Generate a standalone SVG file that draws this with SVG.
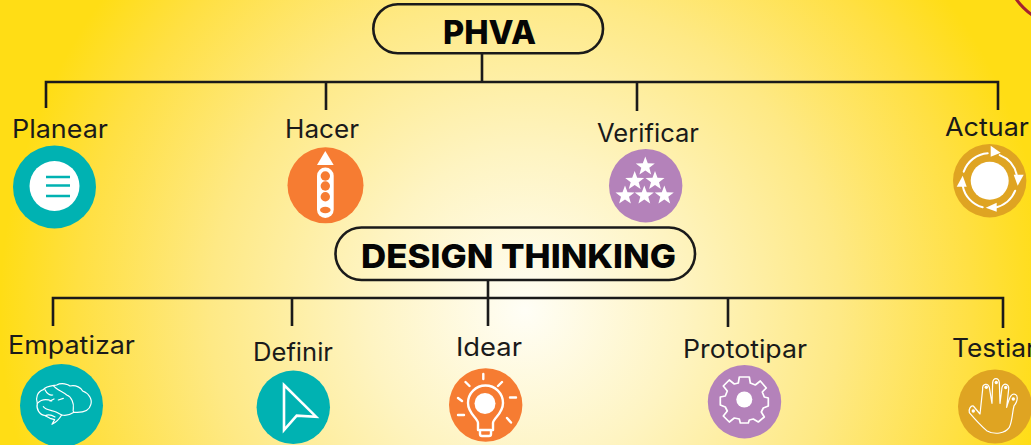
<svg xmlns="http://www.w3.org/2000/svg" width="1031" height="445" viewBox="0 0 1031 445">
<style>
.lbl{font-family:"Inter","Noto Sans","Liberation Sans",sans-serif;font-size:25px;font-weight:400;fill:#1a1a1a}
.ttl{font-family:"Inter","Liberation Sans",sans-serif;font-size:33px;font-weight:800;fill:#050505}
.pill{fill:none;stroke:#1a1a1a;stroke-width:2.6}
.conn{fill:none;stroke:#1a1a1a;stroke-width:2.6}
.w{fill:#fff}
.ws{fill:none;stroke:#fff;stroke-width:2.4;stroke-linecap:round;stroke-linejoin:round}
.thin{fill:none;stroke:#fff;stroke-width:3.6;stroke-linecap:round;stroke-linejoin:round}
.teal{fill:#00b2b2}.orange{fill:#f67c32}.purple{fill:#b482ba}.gold{fill:#dfa422}
</style>
<defs>
<radialGradient id="bg" gradientUnits="userSpaceOnUse" cx="525" cy="310" r="525">
<stop offset="0" stop-color="#fffef6"/>
<stop offset="0.3" stop-color="#fef4c2"/>
<stop offset="0.6" stop-color="#fee985"/>
<stop offset="0.85" stop-color="#ffe043"/>
<stop offset="1" stop-color="#ffdd15"/>
</radialGradient>
<polygon id="star" points="0,-10 2.500,-3.200 9.500,-3.100 4,1.200 5.900,8.100 0,4 -5.900,8.100 -4,1.200 -9.500,-3.100 -2.500,-3.200"/>
</defs>
<rect width="1031" height="445" fill="url(#bg)"/>
<circle cx="1065.800" cy="-34.800" r="60" fill="none" stroke="#a5212f" stroke-width="3"/>

<g id="connectors">
<path class="conn" d="M482 53V82M46 108V82H998V110M326 82V110M637 82V111"/>
<path class="conn" d="M488 280V326M53 326V298H1003V328M292 298V326M728 298V327"/>
</g>

<g id="phva"><rect class="pill" x="373.300" y="4.300" width="229.700" height="49" rx="24.500"/><text class="ttl" x="443" y="44" textLength="93" lengthAdjust="spacingAndGlyphs">PHVA</text></g>
<g id="design-thinking"><rect class="pill" x="335.500" y="227.500" width="359.500" height="52.500" rx="26"/><text class="ttl" x="361" y="267.500" textLength="315" lengthAdjust="spacingAndGlyphs">DESIGN THINKING</text></g>

<g id="planear"><text class="lbl" x="12" y="138" textLength="96" lengthAdjust="spacingAndGlyphs">Planear</text>
<circle class="teal" cx="54.500" cy="187" r="41.500"/><circle class="w" cx="54.500" cy="186" r="25"/>
<path d="M46 177H70M46 185.500H70M46 196H70" stroke="#00b2b2" stroke-width="2.600" fill="none"/></g>

<g id="hacer"><text class="lbl" x="285" y="138" textLength="74" lengthAdjust="spacingAndGlyphs">Hacer</text>
<circle class="orange" cx="325.500" cy="185.300" r="38"/>
<polygon class="w" points="325.300,151 317,165 333.700,165"/>
<rect class="w" x="317" y="167.500" width="16.700" height="50.500" rx="8.300"/>
<g class="orange"><circle cx="325.300" cy="176" r="4.700"/><circle cx="325.300" cy="186" r="4.700"/><circle cx="325.300" cy="196.700" r="4.700"/><ellipse cx="325.300" cy="210" rx="5.300" ry="3.300"/></g></g>

<g id="verificar"><text class="lbl" x="597" y="141.700" textLength="102" lengthAdjust="spacingAndGlyphs">Verificar</text>
<circle class="purple" cx="645.700" cy="185.700" r="36.700"/>
<g class="w"><use href="#star" x="645.300" y="166.500"/><use href="#star" x="634.700" y="181"/><use href="#star" x="655" y="181"/><use href="#star" x="625" y="195.500"/><use href="#star" x="644.300" y="195.500"/><use href="#star" x="664.300" y="195.500"/></g></g>

<g id="actuar"><text class="lbl" x="945" y="136" textLength="84" lengthAdjust="spacingAndGlyphs">Actuar</text>
<circle class="gold" cx="989.700" cy="180.700" r="36.700"/><circle class="w" cx="989.700" cy="180.700" r="19"/>
<g transform="translate(989.700 180.700)"><path class="ws" style="stroke-width:2" d="M-26 -9A27.500 27.500 0 0 1 -2 -27.400M10 -25.600A27.500 27.500 0 0 1 27 -6M25.500 10A27.500 27.500 0 0 1 5 27M-7 26.600A27.500 27.500 0 0 1 -27 5"/>
<polygon class="w" points="1,-35 1,-24 11,-28"/><polygon class="w" points="24,-6 34,-6 28,5"/><polygon class="w" points="7,22 -4,27 7,31"/><polygon class="w" points="-33,6 -23,6 -27,-5"/></g></g>

<g id="empatizar"><text class="lbl" x="8" y="354" textLength="127" lengthAdjust="spacingAndGlyphs">Empatizar</text>
<circle class="teal" cx="61.500" cy="405.500" r="41.500"/>
<g transform="translate(0 325) scale(.3333)"><path class="thin" d="M112 235C106 218 112 200 130 194C138 182 160 182 170 180C185 172 205 178 210 183C228 178 245 190 248 198C268 205 278 225 272 240C268 258 250 264 222 262C210 270 195 272 185 270C178 282 168 292 156 298L164 284L150 280L136 272C118 270 108 252 112 235Z"/>
<path class="thin" d="M112 235C125 222 140 222 155 228M135 194C140 205 150 212 158 210M160 182C170 195 190 200 200 210C215 215 222 235 220 250C218 258 222 262 222 262M130 245C140 258 160 255 170 262L185 270M136 272C145 268 155 270 165 276M175 225L190 220M150 228L162 222"/></g></g>

<g id="definir"><text class="lbl" x="253" y="361" textLength="80" lengthAdjust="spacingAndGlyphs">Definir</text>
<circle class="teal" cx="293.300" cy="407.300" r="36.700"/>
<polygon points="284,385 316,416.700 296.700,415.700 284,430" fill="none" stroke="#fff" stroke-width="2.600" stroke-linejoin="miter"/></g>

<g id="idear"><text class="lbl" x="456" y="356" textLength="66" lengthAdjust="spacingAndGlyphs">Idear</text>
<circle class="orange" cx="485.700" cy="405" r="36.700"/><circle class="w" cx="485" cy="403.500" r="10.500"/>
<path class="ws" d="M480 430H491V434A2 2 0 0 1 489 436H482A2 2 0 0 1 480 434ZM478 430V423C478 418 468 414 468 403A17.500 17.500 0 0 1 503 403C503 414 493 418 493 423V430"/>
<path class="ws" d="M483.300 374V379M465.500 382L469.500 386M502 382L498 386M458 398L462 401M510 397.500H516M458 415H464M507 418L511 422.500"/></g>

<g id="prototipar"><text class="lbl" x="683" y="358" textLength="124" lengthAdjust="spacingAndGlyphs">Prototipar</text>
<circle class="purple" cx="744.500" cy="401.700" r="36.700"/><circle class="w" cx="744.300" cy="399.500" r="8"/>
<path class="ws" style="stroke-width:1.700" transform="translate(744.300 400)" d="M-5 -23H5L6 -17L11 -15L16 -19L22 -12L18 -8L20 -3L24 -2V6L19 8L17 12L20 17L14 22L9 19L5 20L4 23H-4L-5 19L-10 18L-15 22L-21 16L-17 11L-19 7L-24 5V-3L-19 -4L-17 -9L-21 -14L-15 -20L-10 -16L-6 -17Z"/></g>

<g id="testiar"><text class="lbl" x="952" y="356.500" textLength="84" lengthAdjust="spacingAndGlyphs">Testiar</text>
<circle class="gold" cx="995" cy="406.500" r="37"/>
<g transform="translate(940 330) scale(.3333)"><path class="thin" d="M120 252L100 228C92 226 85 238 88 248C105 268 120 285 140 302C165 316 195 310 208 292C218 270 216 250 222 228C236 210 234 194 222 192C212 192 208 205 200 232L206 178C208 162 190 156 186 172L180 220L178 158C176 142 160 142 158 158L156 220L148 172C144 158 126 160 128 178Z"/></g>
<g class="w"><circle cx="986.300" cy="387.300" r="1.700"/><circle cx="996.300" cy="382.500" r="1.700"/><circle cx="1005.700" cy="387.500" r="1.700"/><circle cx="1013.300" cy="399" r="1.700"/><circle cx="973.300" cy="411" r="1.700"/></g></g>
</svg>
